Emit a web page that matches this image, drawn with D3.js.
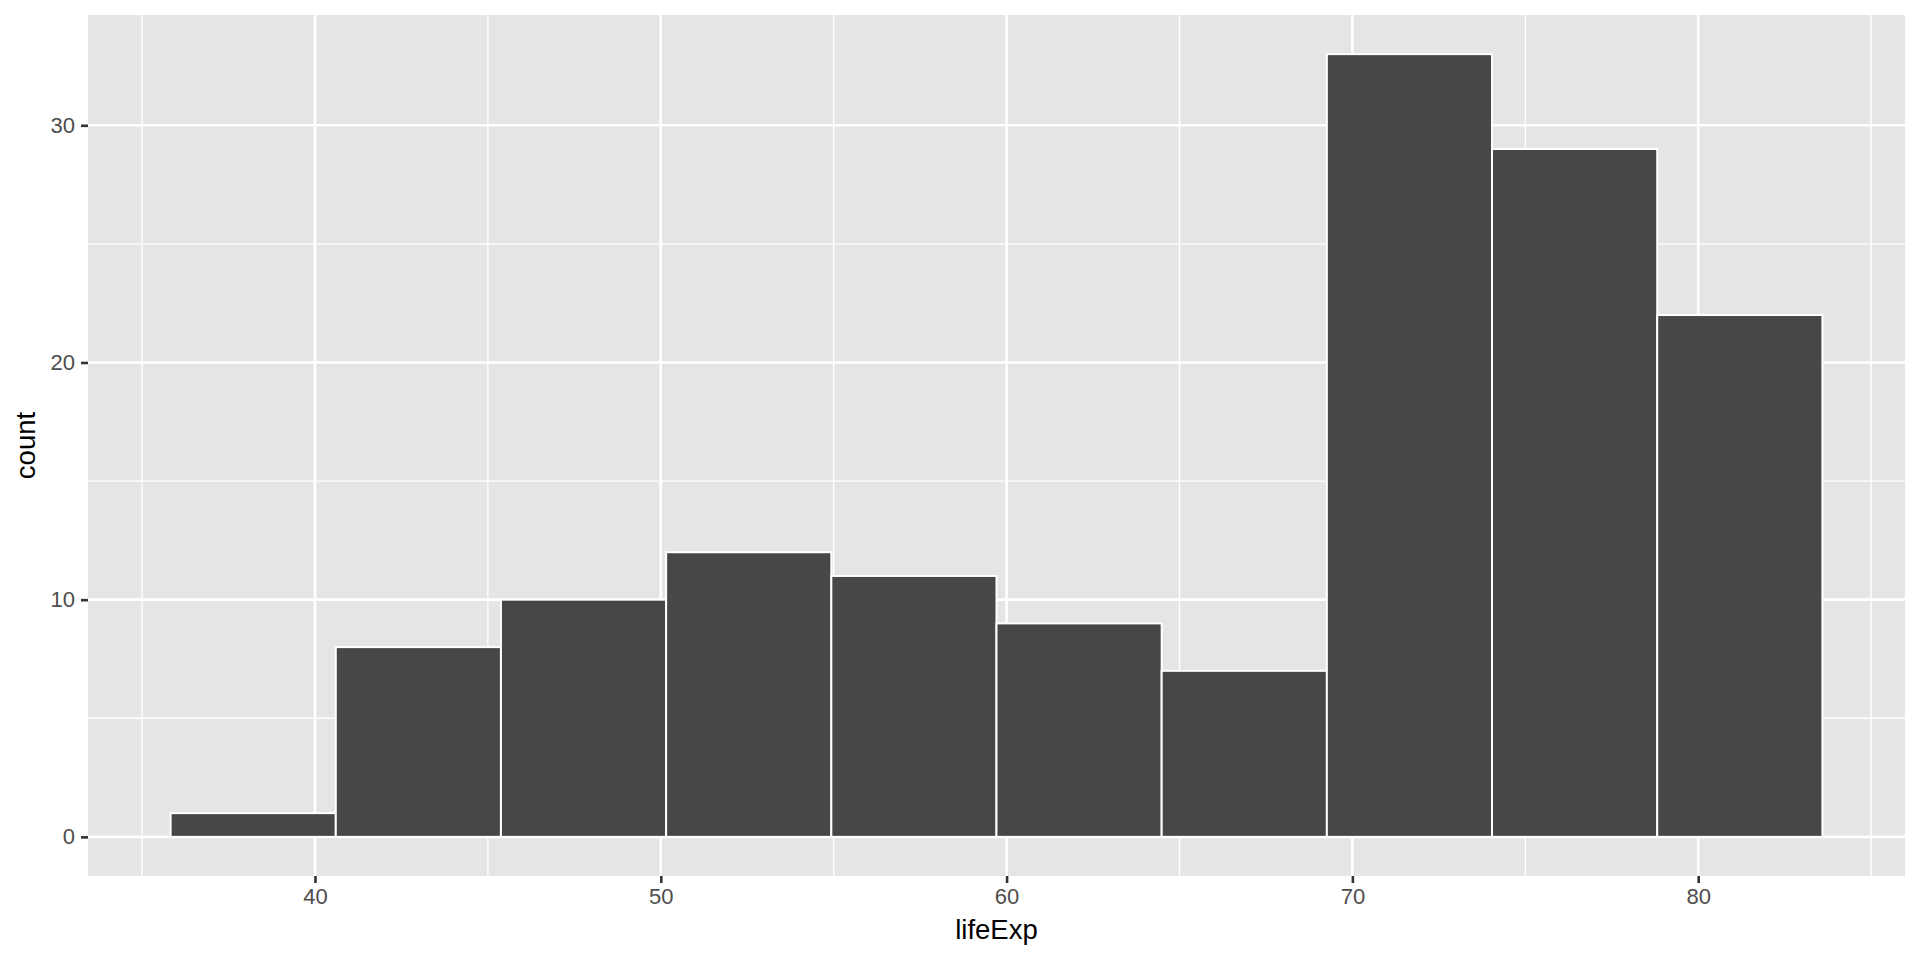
<!DOCTYPE html>
<html>
<head>
<meta charset="utf-8">
<style>
body { margin: 0; background: #fff; }
text { font-family: "Liberation Sans", Arial, Helvetica, sans-serif; }
</style>
</head>
<body>
<script src="https://cdn.jsdelivr.net/npm/d3@7"></script>
<script>

// histogram of lifeExp, 10 bins
var binEdges = [35.825, 40.602, 45.378, 50.155, 54.932, 59.708, 64.485, 69.262, 74.038, 78.815, 83.592];
var counts = [1, 8, 10, 12, 11, 9, 7, 33, 29, 22];
var xTicks = [40, 50, 60, 70, 80];
var xMinor = [35, 45, 55, 65, 75, 85];
var yTicks = [0, 10, 20, 30];
var yMinor = [5, 15, 25];

var width = 1920,
    height = 960;
var margin = {top: 15, right: 15, bottom: 84, left: 88};

var bins = counts.map(function(c, i) {
  return {x0: binEdges[i], x1: binEdges[i + 1], count: c};
});

// ggplot style 5% expansion
var xlo = binEdges[0], xhi = binEdges[binEdges.length - 1];
var xpad = (xhi - xlo) * 0.05;
var ymax = d3.max(counts), ypad = ymax * 0.05;

var x = d3.scaleLinear()
    .domain([xlo - xpad, xhi + xpad])
    .range([margin.left, width - margin.right]);
var y = d3.scaleLinear()
    .domain([-ypad, ymax + ypad])
    .range([height - margin.bottom, margin.top]);

var svg = d3.select("body").append("svg")
    .attr("width", width)
    .attr("height", height);

svg.append("rect")
    .attr("x", margin.left)
    .attr("y", margin.top)
    .attr("width", width - margin.left - margin.right)
    .attr("height", height - margin.top - margin.bottom)
    .attr("fill", "#e5e5e5");

var grid = svg.append("g");

grid.selectAll("line.xminor").data(xMinor).enter().append("line")
    .attr("x1", x).attr("x2", x)
    .attr("y1", margin.top).attr("y2", height - margin.bottom)
    .attr("stroke", "#fff").attr("stroke-width", 1.33);
grid.selectAll("line.yminor").data(yMinor).enter().append("line")
    .attr("y1", y).attr("y2", y)
    .attr("x1", margin.left).attr("x2", width - margin.right)
    .attr("stroke", "#fff").attr("stroke-width", 1.33);
grid.selectAll("line.xmajor").data(xTicks).enter().append("line")
    .attr("x1", x).attr("x2", x)
    .attr("y1", margin.top).attr("y2", height - margin.bottom)
    .attr("stroke", "#fff").attr("stroke-width", 2.6);
grid.selectAll("line.ymajor").data(yTicks).enter().append("line")
    .attr("y1", y).attr("y2", y)
    .attr("x1", margin.left).attr("x2", width - margin.right)
    .attr("stroke", "#fff").attr("stroke-width", 2.6);

// bars
svg.append("g")
    .selectAll("rect")
    .data(bins)
    .enter()
    .append("rect")
    .attr("x", function(d) { return x(d.x0); })
    .attr("width", function(d) { return x(d.x1) - x(d.x0); })
    .attr("y", function(d) { return y(d.count); })
    .attr("height", function(d) { return y(0) - y(d.count); })
    .attr("fill", "#474747")
    .attr("stroke", "#fff")
    .attr("stroke-width", 2);

// axes
var xAxis = d3.axisBottom(x).tickValues(xTicks).tickSize(7).tickPadding(5);
var yAxis = d3.axisLeft(y).tickValues(yTicks).tickSize(7).tickPadding(6);

var gx = svg.append("g")
    .attr("transform", "translate(0," + (height - margin.bottom) + ")")
    .call(xAxis);
var gy = svg.append("g")
    .attr("transform", "translate(" + margin.left + ",0)")
    .call(yAxis);

[gx, gy].forEach(function(g) {
  g.select(".domain").remove();
  g.selectAll(".tick line").attr("stroke", "#333333").attr("stroke-width", 2.6);
  g.selectAll(".tick text")
      .attr("fill", "#4d4d4d")
      .style("font-size", "22px");
});

svg.append("text")
    .attr("x", (margin.left + width - margin.right) / 2)
    .attr("y", 939)
    .attr("text-anchor", "middle")
    .style("font-size", "27.5px")
    .attr("fill", "#000")
    .text("lifeExp");

svg.append("text")
    .attr("transform", "translate(35," + ((margin.top + height - margin.bottom) / 2) + ") rotate(-90)")
    .attr("text-anchor", "middle")
    .style("font-size", "27.5px")
    .attr("fill", "#000")
    .text("count");

</script>
</body>
</html>
